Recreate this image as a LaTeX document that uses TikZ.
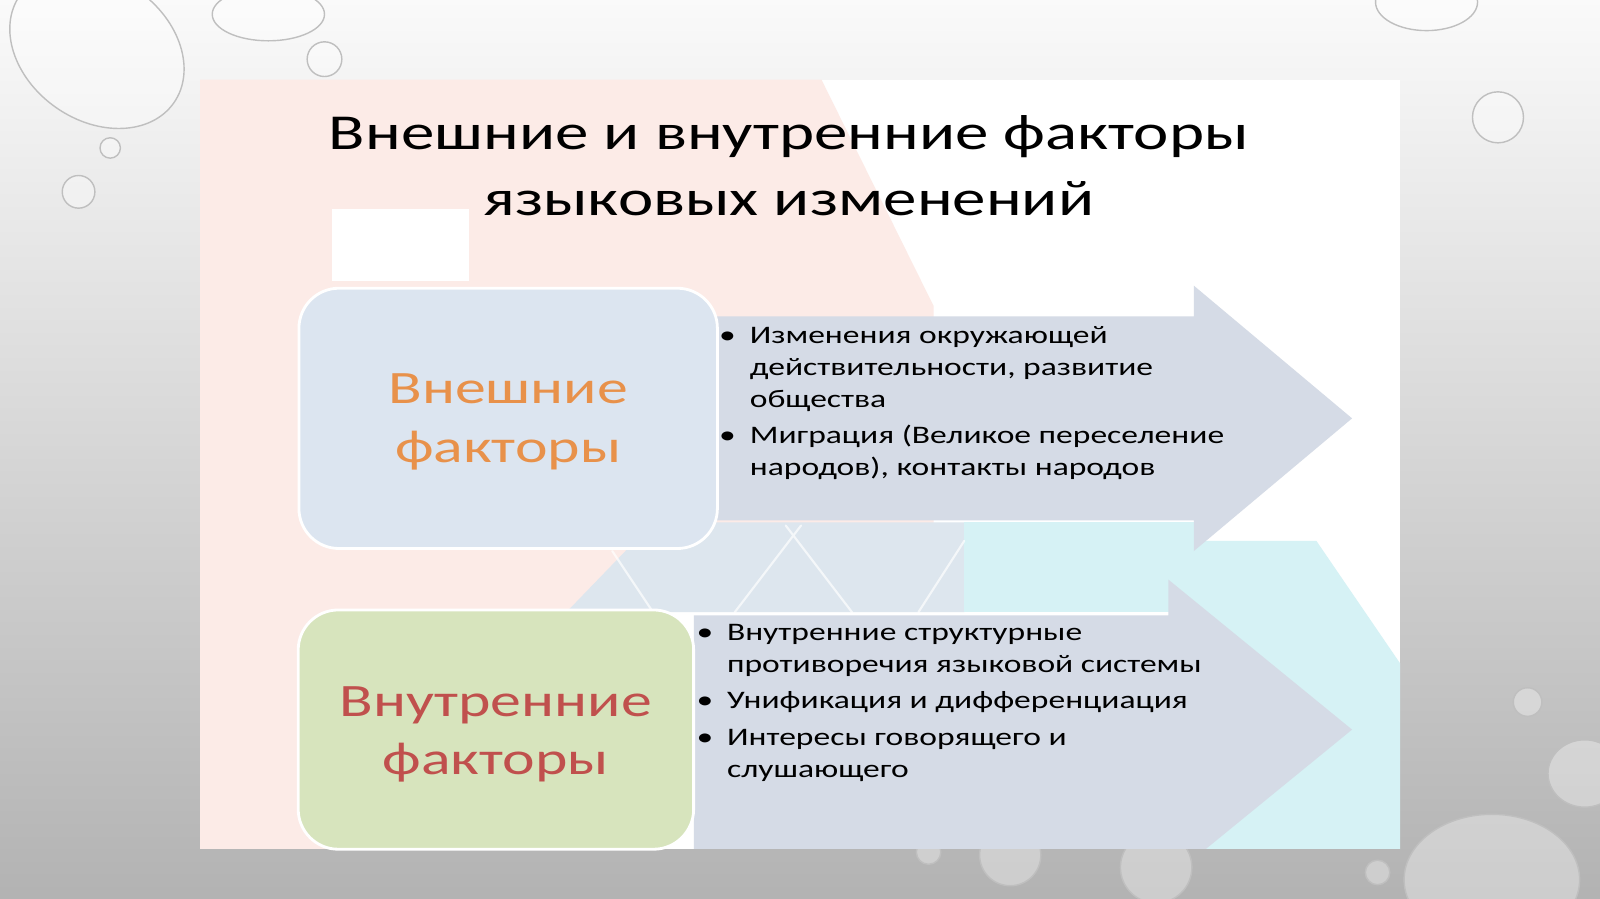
\documentclass[tikz,border=0pt]{standalone}
\usepackage{fontspec}
\setmainfont{Carlito}[FakeStretch=1.33]
\usetikzlibrary{positioning}
\definecolor{panelpink}{HTML}{FCEBE7}
\definecolor{panelcyan}{HTML}{D6F2F5}
\definecolor{panelmist}{HTML}{DDE6EE}
\definecolor{arrowgray}{HTML}{D5DBE6}
\definecolor{extfill}{HTML}{DCE5F0}
\definecolor{intfill}{HTML}{D7E4BD}
\definecolor{extorange}{HTML}{E8914A}
\definecolor{intred}{HTML}{C0504D}
\begin{document}
\begin{tikzpicture}[x=0.0102cm, y=-0.0102cm, line join=round, line cap=round,
    drop/.style={fill=white, fill opacity=0.35, draw=gray!50, line width=0.4pt},
    factorbox/.style={rounded corners=0.4cm, draw=white, line width=0.8pt, inner sep=0pt},
    factorlabel/.style={align=center, inner sep=0pt, font=\fontsize{13.2}{16.6}\selectfont},
    bullets/.style={anchor=north west, inner sep=0pt, font=\fontsize{7.17}{9}\selectfont}]
	\useasboundingbox (0,0) rectangle (1568,881);
	% background and drops
	\shade[top color=gray!4, bottom color=gray!60] (0,0) rectangle (1568,881);
	\draw[drop] (95,48) ellipse[x radius=92, y radius=70, rotate=-35];
	\draw[drop] (263,14) ellipse[x radius=55, y radius=26];
	\draw[drop] (1398,2) ellipse[x radius=50, y radius=28];
	\draw[drop] (1462,862) ellipse[x radius=86, y radius=64];
	\draw[drop] (1553,758) ellipse[x radius=36, y radius=33];
	\foreach \x/\y/\r in {318/58/17, 108/145/10, 77/188/16, 1468/115/25, 1497/688/14,
	    1350/855/12, 990/838/30, 1133/850/35, 910/835/12}
		\draw[drop] (\x,\y) circle[radius=\r];
	% slide panel
	\begin{scope}
		\clip (196,78) rectangle (1372,832);
		\fill[white] (196,78) rectangle (1372,832);
		\fill[panelpink] (196,78) -- (805,78) -- (915,300) -- (915,515) -- (620,540)
		  -- (560,600) -- (560,832) -- (196,832) -- cycle;
		\fill[panelmist] (555,600) -- (640,512) -- (945,512) -- (945,600) -- cycle;
		\fill[panelcyan] (945,512) rectangle (1180,600);
		\fill[panelcyan] (1180,530) -- (1290,530) -- (1372,650) -- (1372,832) -- (1180,832) -- cycle;
		\draw[white, line width=0.6pt, opacity=0.7] (720,600) -- (785,515) (835,600) -- (770,515)
		  (900,600) -- (945,530) (640,600) -- (600,540);
		\fill[white] (325,205) rectangle (460,275);
		% arrows
		\fill[arrowgray] (700,310) -- (1170,310) -- (1170,280) -- (1325,410) -- (1170,540)
		  -- (1170,510) -- (700,510) -- cycle;
		\fill[arrowgray] (680,603) -- (1145,603) -- (1145,568) -- (1325,715) -- (1145,862)
		  -- (1145,832) -- (680,832) -- cycle;
	\end{scope}
	% title
	\node[anchor=north, inner sep=0pt, font=\fontsize{14.3}{18.9}\selectfont] (title) at (773,100)
	  {\begin{tabular}{@{}c@{}}Внешние и внутренние факторы\\языковых изменений\end{tabular}};
	% factor boxes
	\node[factorbox, fill=extfill, minimum width=4.18cm, minimum height=2.6cm] (ext) at (498,410) {};
	\node[factorlabel, text=extorange, yshift=-1pt] (extlabel) at (ext) {Внешние\\факторы};
	\node[factorbox, fill=intfill, minimum width=3.95cm, minimum height=2.39cm] (int) at (486,715) {};
	\node[factorlabel, text=intred, yshift=-1.4pt] (intlabel) at (int) {Внутренние\\факторы};
	% bullet lists
	\node[bullets] (extlist) at (704,314.5) {\begin{tabular}{@{}l@{\hspace{4pt}}l@{}}
	  •&Изменения окружающей\\&действительности, развитие\\&общества\\[1.4pt]
	  •&Миграция (Великое переселение\\&народов), контакты народов\end{tabular}};
	\node[bullets] (intlist) at (682,605.5) {\begin{tabular}{@{}l@{\hspace{3.9pt}}l@{}}
	  •&Внутренние структурные\\&противоречия языковой системы\\[1.4pt]
	  •&Унификация и дифференциация\\[1.4pt]
	  •&Интересы говорящего и\\&слушающего\end{tabular}};
\end{tikzpicture}
\end{document}
